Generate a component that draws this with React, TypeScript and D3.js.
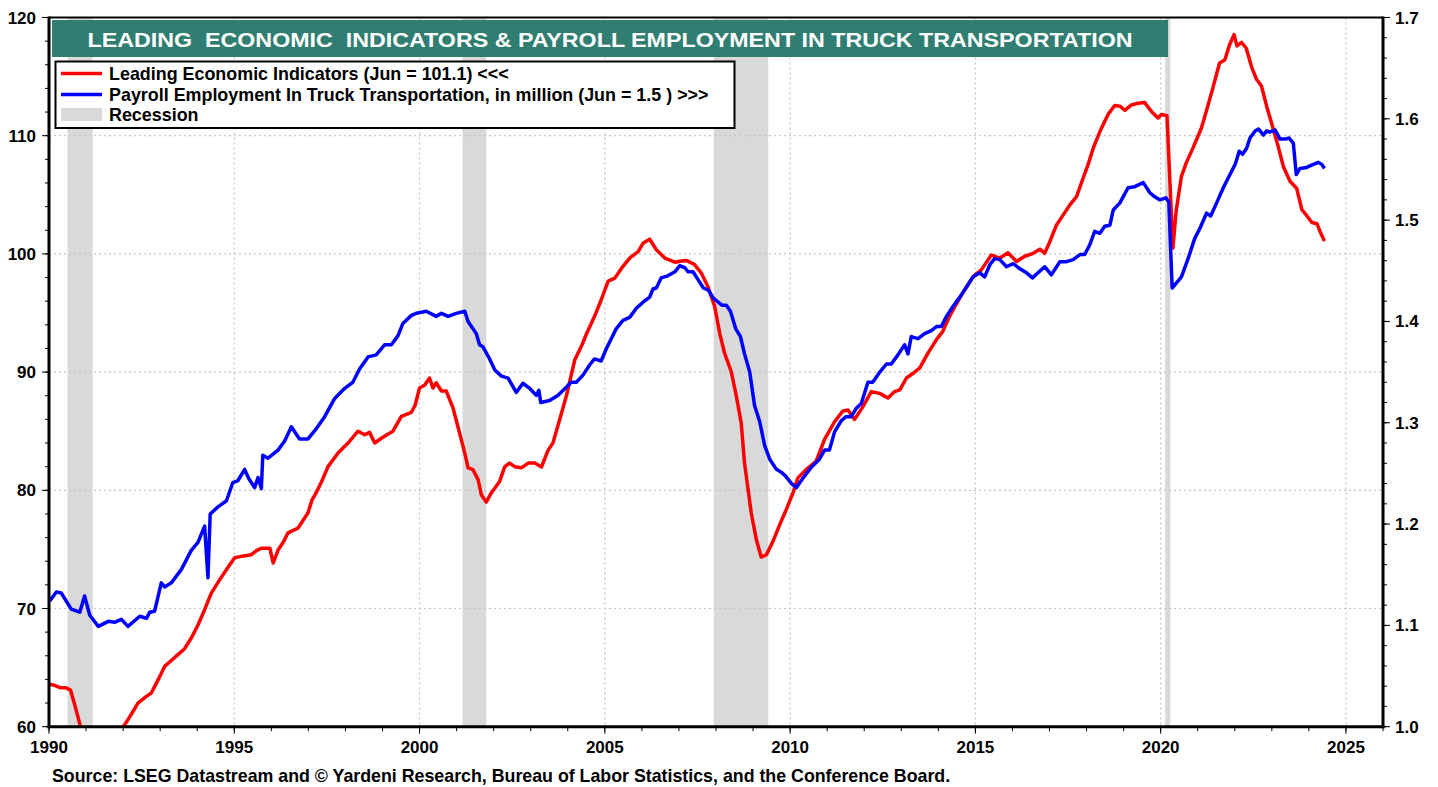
import React from "react";
import * as d3 from "d3";

const TITLE = "LEADING  ECONOMIC  INDICATORS & PAYROLL EMPLOYMENT IN TRUCK TRANSPORTATION";
const LEGEND_LABELS = [
  "Leading Economic Indicators (Jun = 101.1) <<<",
  "Payroll Employment In Truck Transportation, in million (Jun = 1.5 ) >>>",
  "Recession",
];
const SOURCE = "Source: LSEG Datastream and \u00A9 Yardeni Research, Bureau of Labor Statistics, and the Conference Board.";

const yearTicks = [1990, 1995, 2000, 2005, 2010, 2015, 2020, 2025];
const leftTicks = [60, 70, 80, 90, 100, 110, 120];
const rightTicks = [1.0, 1.1, 1.2, 1.3, 1.4, 1.5, 1.6, 1.7];

const recessions: [number, number][] = [
  [1990.5, 1991.18],
  [2001.16, 2001.8],
  [2007.94, 2009.41],
  [2020.12, 2020.26],
];

// Leading Economic Indicators (left axis)
const leiSeries: [number, number][] = [
  [1990.0, 63.6], [1990.15, 63.5], [1990.3, 63.3], [1990.45, 63.3], [1990.58, 63.1], [1990.7, 61.8],
  [1990.85, 60.0], [1991.0, 58.6], [1991.2, 58.0], [1991.5, 58.3], [1991.8, 59.2], [1992.05, 60.2],
  [1992.25, 61.2], [1992.4, 62.0], [1992.6, 62.5], [1992.76, 62.85], [1992.95, 64.0], [1993.12, 65.1],
  [1993.3, 65.6], [1993.48, 66.1], [1993.66, 66.6], [1993.84, 67.5], [1994.02, 68.6], [1994.2, 69.9],
  [1994.38, 71.3], [1994.6, 72.4], [1994.79, 73.3], [1995.01, 74.3], [1995.25, 74.45], [1995.46, 74.55],
  [1995.6, 74.9], [1995.73, 75.1], [1995.96, 75.1], [1996.05, 73.85], [1996.19, 75.0], [1996.32, 75.6],
  [1996.45, 76.4], [1996.72, 76.8], [1996.99, 78.1], [1997.1, 79.2], [1997.21, 79.8], [1997.38, 80.9],
  [1997.53, 82.0], [1997.8, 83.15], [1998.07, 84.0], [1998.34, 85.0], [1998.52, 84.7], [1998.65, 84.9],
  [1998.79, 84.0], [1998.97, 84.4], [1999.12, 84.7], [1999.28, 85.0], [1999.51, 86.25], [1999.78, 86.6],
  [1999.88, 87.2], [2000.0, 88.65], [2000.14, 88.9], [2000.27, 89.5], [2000.36, 88.65], [2000.45, 89.1],
  [2000.59, 88.4], [2000.72, 88.4], [2000.9, 87.0], [2001.08, 84.85], [2001.22, 83.15], [2001.31, 81.9],
  [2001.44, 81.75], [2001.58, 80.9], [2001.67, 79.6], [2001.8, 79.0], [2001.94, 79.8], [2002.16, 80.75],
  [2002.3, 82.0], [2002.43, 82.3], [2002.57, 82.0], [2002.75, 81.9], [2002.93, 82.3], [2003.11, 82.3],
  [2003.29, 81.97], [2003.47, 83.4], [2003.6, 84.0], [2003.78, 85.97], [2003.96, 87.95], [2004.19, 91.05],
  [2004.37, 92.2], [2004.5, 93.2], [2004.72, 94.7], [2004.9, 96.1], [2005.09, 97.7], [2005.27, 97.95],
  [2005.49, 98.95], [2005.67, 99.65], [2005.9, 100.2], [2006.03, 100.9], [2006.21, 101.25], [2006.39, 100.35],
  [2006.62, 99.65], [2006.89, 99.3], [2007.07, 99.4], [2007.2, 99.45], [2007.42, 99.1], [2007.6, 98.4],
  [2007.78, 97.25], [2007.96, 95.6], [2008.1, 93.3], [2008.23, 91.6], [2008.41, 90.05], [2008.55, 87.95],
  [2008.68, 85.7], [2008.77, 82.3], [2008.95, 78.1], [2009.09, 75.8], [2009.22, 74.35], [2009.36, 74.55],
  [2009.54, 75.7], [2009.72, 77.1], [2009.9, 78.4], [2010.08, 79.8], [2010.21, 81.05], [2010.43, 81.75],
  [2010.7, 82.45], [2010.93, 84.3], [2011.2, 85.8], [2011.42, 86.7], [2011.56, 86.8], [2011.74, 86.0],
  [2011.97, 87.1], [2012.19, 88.35], [2012.42, 88.2], [2012.64, 87.8], [2012.82, 88.35], [2012.96, 88.5],
  [2013.14, 89.5], [2013.32, 89.9], [2013.5, 90.35], [2013.72, 91.6], [2013.95, 92.75], [2014.12, 93.45],
  [2014.3, 94.7], [2014.53, 96.0], [2014.71, 96.95], [2014.94, 98.1], [2015.16, 98.65], [2015.43, 99.9],
  [2015.66, 99.65], [2015.88, 100.1], [2016.11, 99.35], [2016.33, 99.8], [2016.56, 100.05], [2016.74, 100.4],
  [2016.87, 100.05], [2017.01, 101.05], [2017.19, 102.45], [2017.37, 103.3], [2017.55, 104.15], [2017.73, 104.85],
  [2017.86, 106.0], [2018.04, 107.55], [2018.18, 108.95], [2018.36, 110.35], [2018.58, 111.8], [2018.76, 112.55],
  [2018.9, 112.5], [2019.03, 112.15], [2019.21, 112.6], [2019.39, 112.75], [2019.57, 112.8], [2019.75, 112.05],
  [2019.93, 111.5], [2020.02, 111.8], [2020.17, 111.7], [2020.33, 100.5], [2020.42, 103.7], [2020.56, 106.55],
  [2020.69, 107.7], [2020.87, 108.95], [2021.1, 110.65], [2021.23, 112.05], [2021.41, 114.05], [2021.59, 116.15],
  [2021.73, 116.4], [2021.86, 117.7], [2021.98, 118.55], [2022.06, 117.6], [2022.18, 117.9], [2022.31, 117.4],
  [2022.45, 115.85], [2022.59, 114.75], [2022.72, 114.2], [2022.86, 112.5], [2022.99, 111.1], [2023.17, 109.1],
  [2023.31, 107.4], [2023.49, 106.15], [2023.67, 105.55], [2023.81, 103.75], [2023.94, 103.25], [2024.08, 102.65],
  [2024.22, 102.55], [2024.3, 101.9], [2024.42, 101.1],
];

// Payroll employment in truck transportation, millions (right axis)
const truckSeries: [number, number][] = [
  [1990.02, 1.124], [1990.2, 1.133], [1990.33, 1.132], [1990.6, 1.116], [1990.83, 1.113], [1990.96, 1.129],
  [1991.1, 1.11], [1991.33, 1.099], [1991.6, 1.104], [1991.77, 1.103], [1991.95, 1.106], [1992.13, 1.099],
  [1992.45, 1.109], [1992.63, 1.107], [1992.72, 1.113], [1992.85, 1.114], [1993.03, 1.142], [1993.12, 1.138],
  [1993.3, 1.142], [1993.57, 1.155], [1993.84, 1.174], [1994.02, 1.182], [1994.2, 1.198], [1994.29, 1.147],
  [1994.35, 1.21], [1994.56, 1.217], [1994.79, 1.223], [1994.96, 1.241], [1995.1, 1.243], [1995.28, 1.254],
  [1995.39, 1.245], [1995.55, 1.236], [1995.64, 1.246], [1995.73, 1.235], [1995.77, 1.268], [1995.91, 1.265],
  [1996.18, 1.273], [1996.36, 1.282], [1996.54, 1.296], [1996.76, 1.284], [1996.99, 1.284], [1997.21, 1.294],
  [1997.44, 1.306], [1997.71, 1.324], [1997.98, 1.334], [1998.2, 1.34], [1998.38, 1.353], [1998.61, 1.365],
  [1998.83, 1.367], [1999.06, 1.377], [1999.24, 1.377], [1999.42, 1.386], [1999.55, 1.398], [1999.78, 1.406],
  [1999.91, 1.408], [2000.18, 1.41], [2000.45, 1.405], [2000.59, 1.408], [2000.77, 1.405], [2000.99, 1.408],
  [2001.22, 1.41], [2001.31, 1.4], [2001.53, 1.388], [2001.62, 1.377], [2001.71, 1.375], [2001.89, 1.363],
  [2002.03, 1.352], [2002.21, 1.346], [2002.39, 1.344], [2002.61, 1.33], [2002.79, 1.339], [2002.97, 1.334],
  [2003.15, 1.327], [2003.22, 1.332], [2003.27, 1.32], [2003.51, 1.322], [2003.73, 1.327], [2003.96, 1.335],
  [2004.09, 1.34], [2004.23, 1.34], [2004.41, 1.347], [2004.59, 1.357], [2004.72, 1.363], [2004.9, 1.361],
  [2005.04, 1.373], [2005.31, 1.393], [2005.49, 1.401], [2005.67, 1.404], [2005.85, 1.413], [2006.03, 1.419],
  [2006.21, 1.424], [2006.3, 1.432], [2006.39, 1.433], [2006.52, 1.443], [2006.7, 1.445], [2006.89, 1.449],
  [2007.02, 1.455], [2007.16, 1.453], [2007.25, 1.449], [2007.38, 1.449], [2007.52, 1.441], [2007.66, 1.433],
  [2007.79, 1.431], [2007.93, 1.423], [2008.16, 1.416], [2008.28, 1.416], [2008.39, 1.41], [2008.53, 1.393],
  [2008.66, 1.385], [2008.77, 1.368], [2008.91, 1.35], [2009.04, 1.317], [2009.18, 1.301], [2009.31, 1.278],
  [2009.45, 1.264], [2009.63, 1.254], [2009.77, 1.251], [2009.86, 1.248], [2010.04, 1.24], [2010.17, 1.236],
  [2010.34, 1.245], [2010.57, 1.256], [2010.79, 1.264], [2010.93, 1.273], [2011.06, 1.273], [2011.2, 1.291],
  [2011.38, 1.302], [2011.51, 1.306], [2011.65, 1.306], [2011.78, 1.314], [2011.92, 1.319], [2012.1, 1.34],
  [2012.23, 1.34], [2012.42, 1.35], [2012.6, 1.358], [2012.73, 1.358], [2012.91, 1.367], [2013.09, 1.377],
  [2013.18, 1.368], [2013.27, 1.385], [2013.45, 1.383], [2013.63, 1.388], [2013.81, 1.391], [2013.95, 1.395],
  [2014.08, 1.395], [2014.22, 1.405], [2014.4, 1.415], [2014.58, 1.424], [2014.76, 1.434], [2014.94, 1.444],
  [2015.12, 1.448], [2015.25, 1.444], [2015.39, 1.456], [2015.52, 1.462], [2015.66, 1.461], [2015.84, 1.454],
  [2016.02, 1.457], [2016.2, 1.452], [2016.38, 1.448], [2016.54, 1.443], [2016.69, 1.448], [2016.87, 1.454],
  [2017.05, 1.446], [2017.28, 1.459], [2017.46, 1.459], [2017.64, 1.461], [2017.82, 1.466], [2017.95, 1.466],
  [2018.09, 1.476], [2018.22, 1.489], [2018.36, 1.487], [2018.49, 1.494], [2018.63, 1.495], [2018.72, 1.51],
  [2018.9, 1.517], [2019.12, 1.532], [2019.3, 1.533], [2019.53, 1.537], [2019.71, 1.527], [2019.84, 1.523],
  [2019.98, 1.52], [2020.14, 1.522], [2020.22, 1.518], [2020.31, 1.433], [2020.56, 1.444], [2020.74, 1.462],
  [2020.92, 1.482], [2021.06, 1.492], [2021.24, 1.507], [2021.35, 1.504], [2021.51, 1.517], [2021.69, 1.532],
  [2021.87, 1.545], [2022.01, 1.555], [2022.12, 1.568], [2022.21, 1.565], [2022.32, 1.571], [2022.41, 1.581],
  [2022.55, 1.588], [2022.64, 1.59], [2022.77, 1.584], [2022.86, 1.588], [2022.95, 1.587], [2023.09, 1.589],
  [2023.22, 1.58], [2023.36, 1.58], [2023.47, 1.581], [2023.58, 1.576], [2023.66, 1.545], [2023.76, 1.551],
  [2023.94, 1.552], [2024.12, 1.555], [2024.26, 1.557], [2024.35, 1.555], [2024.42, 1.551],
];

const W = 1438;
const H = 787;
const FONT = "'Liberation Sans', Arial, Helvetica, sans-serif";

export default function App() {
  const x = d3.scaleLinear().domain([1990, 2026]).range([49, 1383]);
  const yL = d3.scaleLinear().domain([60, 120]).range([726.7, 17.5]);
  const yR = d3.scaleLinear().domain([1.0, 1.7]).range([726.7, 17.5]);

  const [x0, x1] = x.range();
  const [yB, yT] = yL.range();

  const leiLine = d3.line<[number, number]>().x((d) => x(d[0])).y((d) => yL(d[1]));
  const truckLine = d3.line<[number, number]>().x((d) => x(d[0])).y((d) => yR(d[1]));

  const minorLeft = d3.range(60, 120.001, 2);
  const minorRight = d3.range(1.0, 1.7001, 0.02);
  const minorYears = d3.range(1990, 2026.001, 1);

  const gridColor = "#c4c4c4";

  return (
    <svg width={W} height={H} style={{ position: "absolute", left: 0, top: 0, background: "#fff" }} fontFamily={FONT}>
      <defs>
        <clipPath id="plotClip">
          <rect x={x0} y={yT} width={x1 - x0} height={yB - yT} />
        </clipPath>
      </defs>
      <rect x={0} y={0} width={W} height={H} fill="#fff" />

      {/* recession bands */}
      {recessions.map(([a, b], i) => (
        <rect key={i} x={x(a)} y={yT} width={x(b) - x(a)} height={yB - yT} fill="#d9d9d9" />
      ))}

      {/* gridlines */}
      {yearTicks.slice(1).map((t) => (
        <line key={"gx" + t} x1={x(t)} x2={x(t)} y1={yT} y2={yB} stroke={gridColor} strokeWidth={1.2} strokeDasharray="2,3" />
      ))}
      {leftTicks.slice(1, -1).map((t) => (
        <line key={"gy" + t} x1={x0} x2={x1} y1={yL(t)} y2={yL(t)} stroke={gridColor} strokeWidth={1.2} strokeDasharray="2,3" />
      ))}

      {/* series */}
      <g clipPath="url(#plotClip)">
        <path d={leiLine(leiSeries) || ""} fill="none" stroke="#ff0000" strokeWidth={3.5} strokeLinejoin="round" />
        <path d={truckLine(truckSeries) || ""} fill="none" stroke="#0000ff" strokeWidth={3.5} strokeLinejoin="round" />
      </g>

      {/* title banner */}
      <rect x={52} y={20} width={1116} height={37} fill="#2f7e71" />
      <text
        x={610}
        y={46.5}
        textAnchor="middle"
        fill="#fff"
        fontWeight="bold"
        fontSize={21}
        style={{ whiteSpace: "pre" }}
        textLength={1045}
        lengthAdjust="spacingAndGlyphs"
      >
        {TITLE}
      </text>

      {/* legend */}
      <rect x={55.5} y={61.5} width={679} height={66.5} fill="#fff" stroke="#000" strokeWidth={2} />
      <line x1={61} x2={102} y1={73.5} y2={73.5} stroke="#ff0000" strokeWidth={3.5} />
      <line x1={61} x2={102} y1={94.5} y2={94.5} stroke="#0000ff" strokeWidth={3.5} />
      <rect x={61} y={108} width={41} height={13} fill="#d9d9d9" />
      {LEGEND_LABELS.map((s, i) => (
        <text key={s} x={109} y={80 + i * 20.5} fontSize={17.9} fontWeight="bold" fill="#000" style={{ whiteSpace: "pre" }}>
          {s}
        </text>
      ))}

      {/* frame */}
      <line x1={x0} x2={x1} y1={yT} y2={yT} stroke="#000" strokeWidth={2} />
      <line x1={x0} x2={x0} y1={yT - 1} y2={yB + 1.5} stroke="#000" strokeWidth={3} />
      <line x1={x1} x2={x1} y1={yT - 1} y2={yB + 1.5} stroke="#000" strokeWidth={3} />
      <line x1={x0 - 1.5} x2={x1 + 1.5} y1={yB} y2={yB} stroke="#000" strokeWidth={3} />

      {/* left axis ticks */}
      {minorLeft.map((t) => (
        <line key={"ml" + t} x1={x0 - 4} x2={x0} y1={yL(t)} y2={yL(t)} stroke="#000" strokeWidth={1} />
      ))}
      {leftTicks.map((t) => (
        <g key={"l" + t}>
          <line x1={x0 - 7} x2={x0} y1={yL(t)} y2={yL(t)} stroke="#000" strokeWidth={1} />
          <text x={36} y={yL(t) + 6} textAnchor="end" fontSize={17} fontWeight="bold">
            {t}
          </text>
        </g>
      ))}

      {/* right axis ticks */}
      {minorRight.map((t) => (
        <line key={"mr" + t} x1={x1} x2={x1 + 4} y1={yR(t)} y2={yR(t)} stroke="#000" strokeWidth={1} />
      ))}
      {rightTicks.map((t) => (
        <g key={"r" + t}>
          <line x1={x1} x2={x1 + 7} y1={yR(t)} y2={yR(t)} stroke="#000" strokeWidth={1} />
          <text x={1395} y={yR(t) + 6} textAnchor="start" fontSize={17} fontWeight="bold">
            {d3.format(".1f")(t)}
          </text>
        </g>
      ))}

      {/* x axis ticks */}
      {minorYears.map((t) => (
        <line key={"mx" + t} x1={x(t)} x2={x(t)} y1={yB} y2={yB + 4.5} stroke="#000" strokeWidth={1} />
      ))}
      {yearTicks.map((t) => (
        <g key={"x" + t}>
          <line x1={x(t)} x2={x(t)} y1={yB} y2={yB + 7} stroke="#000" strokeWidth={1} />
          <text x={x(t)} y={753} textAnchor="middle" fontSize={17} fontWeight="bold">
            {t}
          </text>
        </g>
      ))}

      {/* source */}
      <text x={52} y={781.5} fontSize={17.8} fontWeight="bold" fill="#000">
        {SOURCE}
      </text>
    </svg>
  );
}
